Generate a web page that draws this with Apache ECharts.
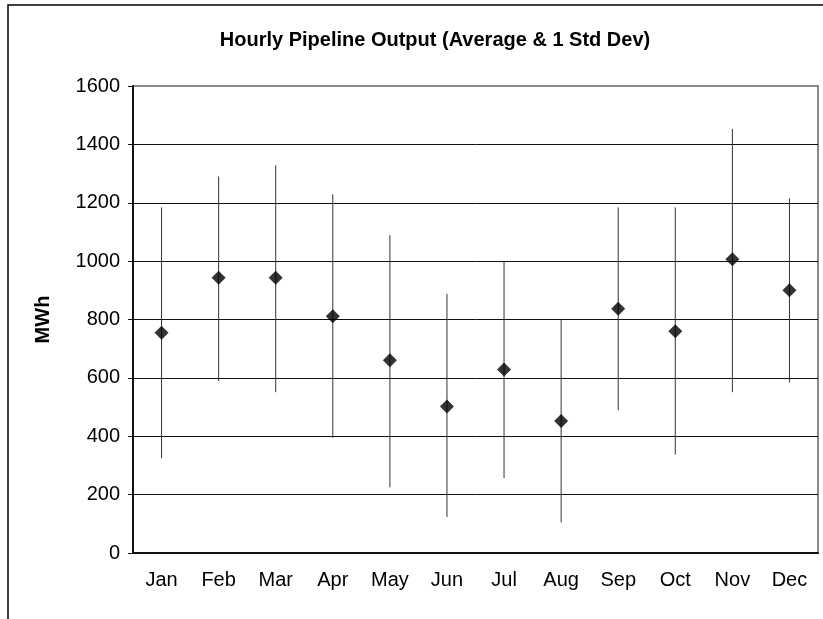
<!DOCTYPE html>
<html>
<head>
<meta charset="utf-8">
<title>Hourly Pipeline Output</title>
<script src="https://cdn.jsdelivr.net/npm/echarts@6/dist/echarts.min.js"></script>
<style>
  html, body { margin: 0; padding: 0; background: #fff; }
  #chart { width: 823px; height: 619px; }
</style>
</head>
<body>
<div id="chart"></div>
<script>
// values
const months = ['Jan', 'Feb', 'Mar', 'Apr', 'May', 'Jun', 'Jul', 'Aug', 'Sep', 'Oct', 'Nov', 'Dec'];
const average = [755, 943, 943, 811, 660, 502, 629, 452, 837, 760, 1006, 900];
const upper = [1184, 1290, 1328, 1229, 1089, 888, 1000, 799, 1184, 1184, 1453, 1215];
const lower = [325, 589, 551, 395, 225, 123, 257, 105, 489, 337, 551, 584];
const yTicks = { min: 0, max: 1600, interval: 200 };

const font = 'Liberation Sans, Arial, sans-serif';
const chart = echarts.init(document.getElementById('chart'));

const bars = months.map((m, i) => [i, lower[i], upper[i]]);

const option = {
  backgroundColor: '#fff',
  animation: false,
  title: {
    text: 'Hourly Pipeline Output (Average & 1 Std Dev)',
    left: 430,
    top: 25,
    textAlign: 'center',
    textStyle: { fontFamily: font, fontSize: 20, fontWeight: 'bold', color: '#000' }
  },
  graphic: [{
    type: 'rect',
    shape: { x: 8, y: 5, width: 1000, height: 1000 },
    style: { fill: 'none', stroke: '#000', lineWidth: 1.5 },
    silent: true
  }],
  grid: {
    left: 133, right: 5, top: 86, bottom: 66,
    show: true,
    borderColor: '#888',
    borderWidth: 2
  },
  xAxis: [{
    type: 'category',
    data: months,
    boundaryGap: true,
    axisLine: { lineStyle: { color: '#111', width: 2 } },
    axisTick: { length: 6, lineStyle: { color: '#111' } },
    axisLabel: { fontFamily: font, fontSize: 20, color: '#000', margin: 17 },
    splitLine: { show: false }
  }, {
    type: 'category',
    data: months,
    position: 'bottom',
    boundaryGap: true,
    axisLine: { show: false },
    axisTick: { inside: true, length: 5, lineStyle: { color: '#111' } },
    axisLabel: { show: false },
    splitLine: { show: false }
  }],
  yAxis: {
    type: 'value',
    min: yTicks.min,
    max: yTicks.max,
    interval: yTicks.interval,
    name: 'MWh',
    nameLocation: 'middle',
    nameGap: 80,
    nameTextStyle: { fontFamily: font, fontSize: 20, fontWeight: 'bold', color: '#000' },
    axisLine: { show: true, lineStyle: { color: '#111', width: 2 } },
    axisTick: { show: true, length: 5, lineStyle: { color: '#111' } },
    axisLabel: {
      fontFamily: font, fontSize: 20, color: '#000', margin: 13,
      formatter: function (v) { return String(v); }
    },
    splitLine: { show: true, showMinLine: false, showMaxLine: false, lineStyle: { color: '#111', width: 1 } }
  },
  series: [{
    type: 'custom',
    name: 'Std Dev',
    data: bars,
    encode: { x: 0, y: [1, 2] },
    renderItem: function (params, api) {
      const lo = api.coord([api.value(0), api.value(1)]);
      const hi = api.coord([api.value(0), api.value(2)]);
      return {
        type: 'line',
        shape: { x1: lo[0], y1: lo[1], x2: hi[0], y2: hi[1] },
        style: { stroke: '#333', lineWidth: 1 }
      };
    },
    z: 2
  }, {
    type: 'scatter',
    name: 'Average',
    data: average,
    symbol: 'diamond',
    symbolSize: 14,
    itemStyle: { color: '#000' },
    z: 3
  }]
};

chart.setOption(option);
</script>
</body>
</html>
